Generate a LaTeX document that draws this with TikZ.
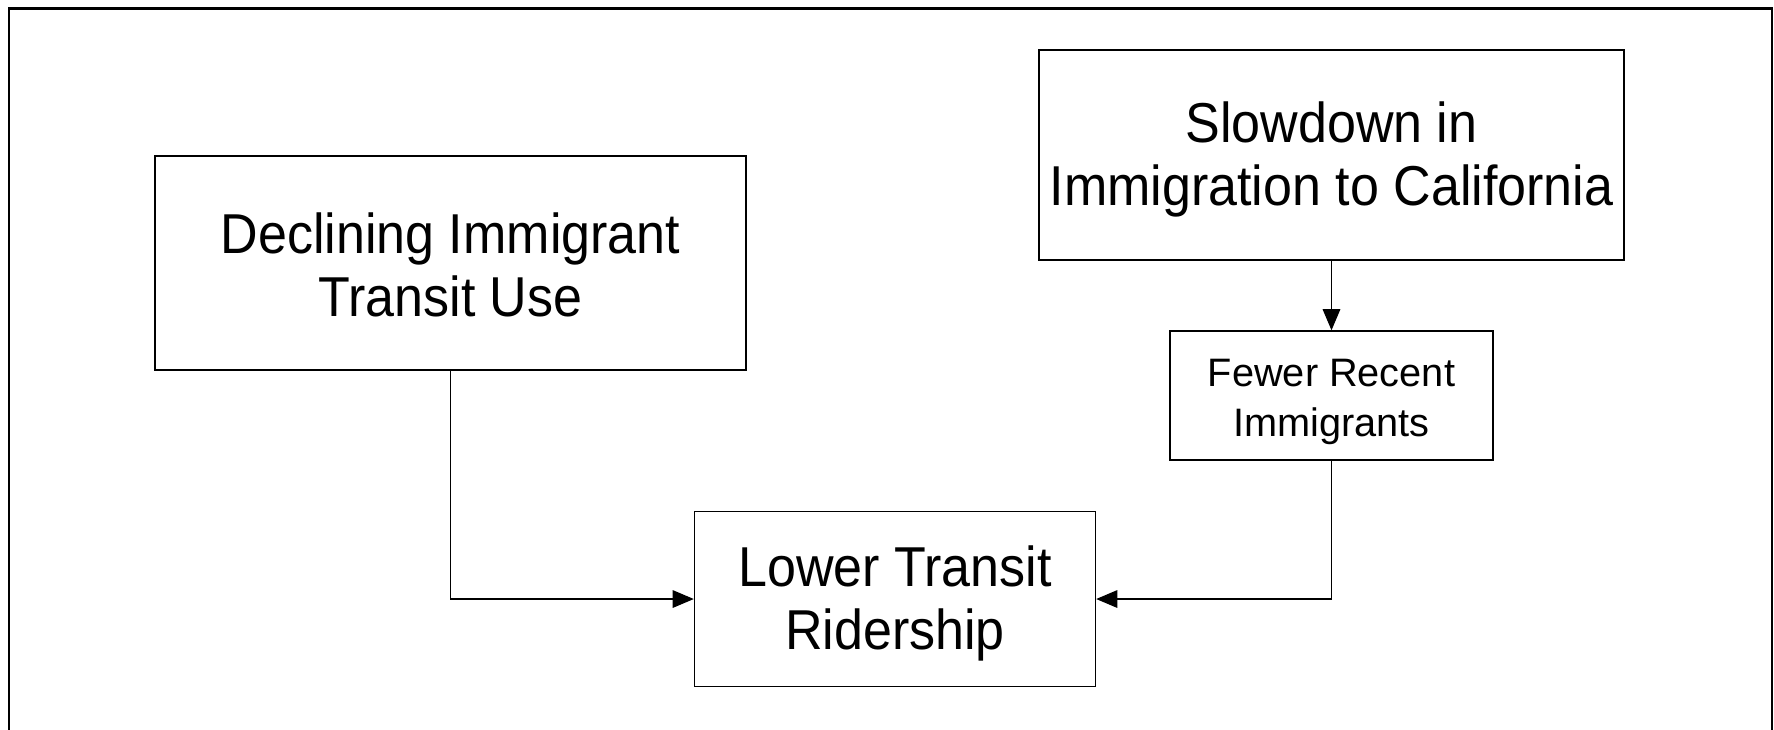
\documentclass[tikz,border=0pt]{standalone}
\usepackage{fontspec}
\setmainfont{Liberation Sans}
\newfontfamily\narrowfont{Liberation Sans}[FakeStretch=0.925]
\usetikzlibrary{arrows.meta}
\begin{document}
\begin{tikzpicture}[x=1cm, y=1cm,
    bigbox/.style={draw, line width=0.4pt, align=center, inner sep=0pt, font=\narrowfont\fontsize{16}{17.8}\selectfont},
    smallbox/.style={draw, line width=0.4pt, align=center, inner sep=0pt, font=\fontsize{11.3}{14.2}\selectfont},
    link/.style={-{Triangle[length=6pt,width=5pt]}, line width=0.35pt}]
    \useasboundingbox (0,0) rectangle (17.74,-7.29);
    \draw[line width=0.65pt] (0.09,-7.5) -- (0.09,-0.085) -- (17.72,-0.085) -- (17.72,-7.5);

    \node[bigbox, minimum width=5.91cm, minimum height=2.14cm] (decline) at (4.505,-2.63) {\rule{0pt}{4.5mm}Declining Immigrant\\Transit Use};
    \node[bigbox, minimum width=5.85cm, minimum height=2.10cm] (slowdown) at (13.315,-1.55) {\rule{0pt}{5mm}Slowdown in\\Immigration to California};
    \node[smallbox, minimum width=3.23cm, minimum height=1.29cm] (fewer) at (13.315,-3.955) {\rule{0pt}{4mm}Fewer Recent\\Immigrants};
    \node[bigbox, minimum width=4.01cm, minimum height=1.75cm] (lower) at (8.95,-5.99) {\rule{0pt}{5mm}Lower Transit\\Ridership};

    \draw[link] (slowdown) -- (fewer);
    \draw[link] (decline.south) |- (lower.west);
    \draw[link] (fewer.south) |- (lower.east);
\end{tikzpicture}
\end{document}
